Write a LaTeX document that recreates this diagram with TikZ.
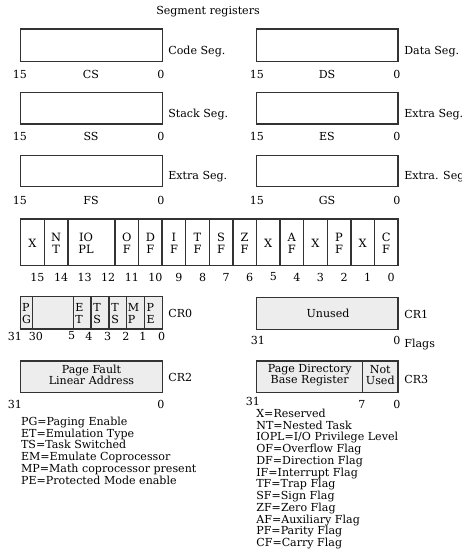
\documentclass[tikz,border=0pt]{standalone}
\usepackage{fontspec}
\setmainfont{DejaVu Serif}
\usetikzlibrary{positioning}
\setlength{\lineskiplimit}{-100pt}

\begin{document}
\begin{tikzpicture}[x=0.02cm,y=-0.02cm,
    reg/.style={draw=black!80,line width=0.8pt},
    crreg/.style={reg,fill=black!7},
    txt/.style={font=\fontsize{6.3}{6.7}\selectfont,inner sep=0pt},
    side/.style={txt,anchor=west},
    flag/.style={txt,align=center,font=\fontsize{6.5}{6.8}\selectfont},
    crflag/.style={txt,align=left,anchor=west,font=\fontsize{6.3}{7.2}\selectfont},
    inbox/.style={txt,align=center,font=\fontsize{6.3}{6.1}\selectfont}]
    \useasboundingbox (0,0) rectangle (462,549);

    % ---------------- Segment registers ----------------
    \node[txt] (segtitle) at (208,12) {Segment registers};

    % Boxes
    \draw[reg] (20.7,29) rectangle (162.3,61.7);
    \draw[reg] (256.7,29) rectangle (398,61.7);
    \draw[reg] (20.7,92.3) rectangle (162.3,124);
    \draw[reg] (256.7,92.3) rectangle (398,124);
    \draw[reg] (20.7,155.7) rectangle (162.3,186.7);
    \draw[reg] (256.7,155.7) rectangle (398,186.7);

    % Names beside the boxes
    \node[side] (codeseg) at (168,51.7) {Code Seg.};
    \node[side] (dataseg) at (404,51.7) {Data Seg.};
    \node[side] (stackseg) at (168,115) {Stack Seg.};
    \node[side] (extraseg) at (404,115) {Extra Seg.};
    \node[side] (fsseg) at (168,176.7) {Extra Seg.};
    \node[side] (gsseg) at (404,176.7) {Extra. Seg};

    % Bits and register names
    \node[txt] (cs15) at (20,74) {15};
    \node[txt] (csname) at (91,74) {CS};
    \node[txt] (cs0) at (161,74) {0};
    \node[txt] (ds15) at (257,74) {15};
    \node[txt] (dsname) at (327,74) {DS};
    \node[txt] (ds0) at (397,74) {0};
    \node[txt] (ss15) at (20,136.7) {15};
    \node[txt] (ssname) at (91,136.7) {SS};
    \node[txt] (ss0) at (161,136.7) {0};
    \node[txt] (es15) at (257,136.7) {15};
    \node[txt] (esname) at (327,136.7) {ES};
    \node[txt] (es0) at (397,136.7) {0};
    \node[txt] (fs15) at (20,200) {15};
    \node[txt] (fsname) at (91,200) {FS};
    \node[txt] (fs0) at (161,200) {0};
    \node[txt] (gs15) at (257,200) {15};
    \node[txt] (gsname) at (327,200) {GS};
    \node[txt] (gs0) at (397,200) {0};

    % ---------------- Flags ----------------
    \draw[reg] (20.7,219) rectangle (398,265.7);
    \foreach \i in {1,2,4,5,6,7,8,9,10,11,12,13,14,15}
        \draw[reg] ({20.7+23.58*\i},219) -- ({20.7+23.58*\i},265.7);

    \foreach \b/\t in {15/X,14/{N\\T},11/{O\\F},10/{D\\F},9/{I\\F},8/{T\\F},7/{S\\F},
                       6/{Z\\F},5/X,4/{A\\F},3/X,2/{P\\F},1/X,0/{C\\F}}
        \node[flag] (flag\b) at ({20.7+23.58*(15.5-\b)},243) {\t};
    \node[flag] (flagiopl) at (86,243) {IO\\PL};

    \foreach \b in {0,...,15}
        \node[txt] (fbit\b) at ({25.7+23.58*(15.5-\b)},277) {\b};

    % ---------------- Control registers ----------------
    % CR0
    \draw[crreg] (20.7,296.7) rectangle (162.3,329);
    \foreach \x in {32.7,73.3,91,109,126.7,144.3}
        \draw[reg] (\x,296.7) -- (\x,329);
    \node[crflag] (crpg) at (21.8,313.5) {P\\G};
    \node[crflag] (cret) at (75,313.5) {E\\T};
    \node[crflag] (crts) at (93,313.5) {T\\S};
    \node[crflag] (crem) at (111,313.5) {T\\S};
    \node[crflag] (crmp) at (127.5,313.5) {M\\P};
    \node[crflag] (crpe) at (146.3,313.5) {P\\E};
    \node[side] (cr0) at (168,313) {CR0};
    \node[txt] (cr0b31) at (15,336) {31};
    \node[txt] (cr0b30) at (36,336) {30};
    \node[txt] (cr0b5) at (71.7,336) {5};
    \node[txt] (cr0b4) at (89,336) {4};
    \node[txt] (cr0b3) at (107.7,336) {3};
    \node[txt] (cr0b2) at (126,336) {2};
    \node[txt] (cr0b1) at (143,336) {1};
    \node[txt] (cr0b0) at (161.7,336) {0};

    % CR1
    \draw[crreg] (256.7,297.3) rectangle (398,329.3);
    \node[txt] (unused) at (328,313) {Unused};
    \node[side] (cr1) at (404,314) {CR1};
    \node[txt] (cr1b31) at (258,340.7) {31};
    \node[txt] (cr1b0) at (397,340) {0};
    \node[side] (flags) at (404,345) {Flags};

    % CR2
    \draw[crreg] (20.7,361) rectangle (162.3,392.7);
    \node[inbox] (pagefault) at (91.5,375) {Page Fault\\Linear Address};
    \node[side] (cr2) at (168,377) {CR2};
    \node[txt] (cr2b31) at (15,404) {31};
    \node[txt] (cr2b0) at (161,404) {0};

    % CR3
    \draw[crreg] (256.7,361) rectangle (398,392.7);
    \draw[reg] (362.7,361) -- (362.7,392.7);
    \node[inbox] (pagedir) at (309.7,375) {Page Directory\\Base Register};
    \node[inbox] (notused) at (380.3,375) {Not\\Used};
    \node[side] (cr3) at (404,379) {CR3};
    \node[txt] (cr3b31) at (253,401.7) {31};
    \node[txt] (cr3b7) at (362,404) {7};
    \node[txt] (cr3b0) at (397,404) {0};

    % ---------------- Legends ----------------
    \node[txt,align=left,anchor=north west] (crlegend) at (20.7,416.5)
        {PG=Paging Enable\\ET=Emulation Type\\TS=Task Switched\\EM=Emulate Coprocessor\\
         MP=Math coprocessor present\\PE=Protected Mode enable};
    \node[txt,align=left,anchor=north west] (flaglegend) at (256,408.5)
        {X=Reserved\\NT=Nested Task\\IOPL=I/O Privilege Level\\OF=Overflow Flag\\
         DF=Direction Flag\\IF=Interrupt Flag\\TF=Trap Flag\\SF=Sign Flag\\ZF=Zero Flag\\
         AF=Auxiliary Flag\\PF=Parity Flag\\CF=Carry Flag};
\end{tikzpicture}
\end{document}
